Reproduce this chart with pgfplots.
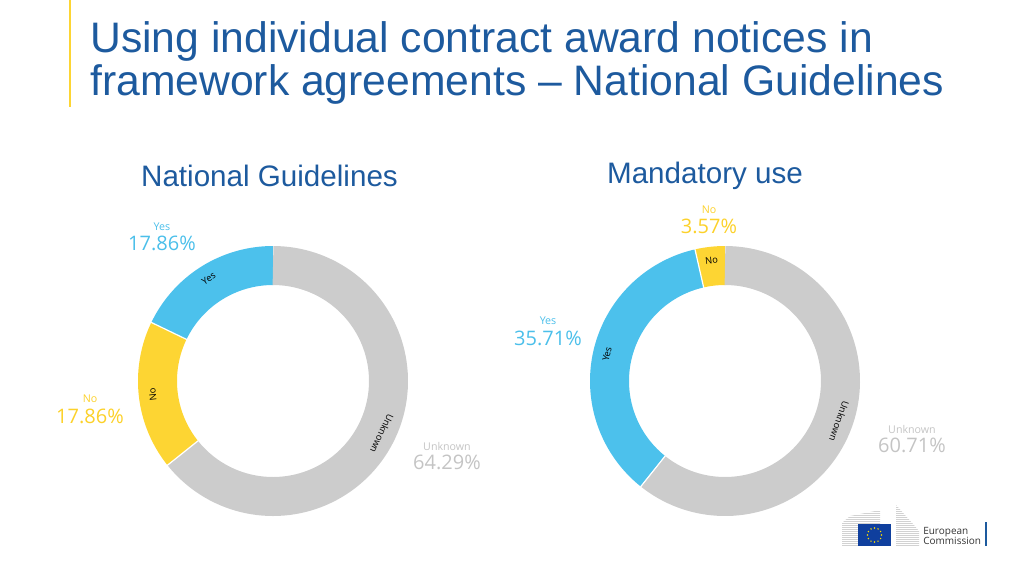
\documentclass[border=0pt]{standalone}
\usepackage{fontspec}
\setmainfont{Liberation Sans}
\newfontfamily\os{Open Sans}
\usepackage{pgfplots}
\pgfplotsset{compat=1.18}
\definecolor{cblue}{HTML}{4CC1EC}
\definecolor{cyel}{HTML}{FDD533}
\definecolor{cgray}{HTML}{CCCCCC}
\definecolor{ctitle}{HTML}{1D5A9E}
\definecolor{lgray}{HTML}{C4C4C4}
\definecolor{lblue}{HTML}{4BBFEA}
\definecolor{lyel}{HTML}{FCD12A}
\definecolor{eublue}{HTML}{0F3F9E}
\definecolor{eustar}{HTML}{FFDD00}
\newcommand{\inlfont}{\os\fontsize{7}{8}\selectfont}
% donut ring segment: cx, cy, start %, end %, colour
\newcommand{\seg}[5]{\addplot[draw=#5, line width=29.25pt, line cap=butt, domain=90+3.6*#3:90+3.6*#4, samples=100, variable=\t, forget plot] ({#1+115.5*cos(\t)},{#2-115.5*sin(\t)});}
% separator line at a cumulative %
\newcommand{\sep}[3]{\addplot[draw=white, line width=0.9pt, domain=95.5:135.5, samples=2, variable=\r, forget plot] ({#1+\r*cos(90+3.6*#3)},{#2-\r*sin(90+3.6*#3)});}
% label inside the ring
\newcommand{\inlab}[5]{%
  \pgfmathsetmacro\th{90+1.8*(#3+#4)}%
  \pgfmathsetmacro\lx{#1+121*cos(\th)}%
  \pgfmathsetmacro\ly{#2-121*sin(\th)}%
  \pgfmathsetmacro\rot{\th-90}%
  \edef\tmp{\noexpand\node[font=\noexpand\inlfont, text=black, rotate=\rot, inner sep=0pt] at (axis cs:\lx,\ly) {#5};}\tmp}
\begin{document}
\begin{tikzpicture}
\useasboundingbox (0,0) rectangle (768pt,432pt);
\begin{axis}[at={(0,0)},anchor=south west,width=768pt,height=432pt,scale only axis,
  xmin=0,xmax=1024,ymin=0,ymax=576,y dir=reverse,hide axis,clip=false]
% title
\draw[cyel, line width=2.2pt] (axis cs:70,0) -- (axis cs:70,107);
\node[anchor=base west, inner sep=0pt, text=ctitle, font=\fontsize{32}{38}\selectfont] at (axis cs:90,52) {Using individual contract award notices in};
\node[anchor=base west, inner sep=0pt, text=ctitle, font=\fontsize{32}{38}\selectfont] at (axis cs:90,95) {framework agreements -- National Guidelines};
% subtitles
\node[anchor=base, inner sep=0pt, text=ctitle, font=\fontsize{22.2}{26}\selectfont] at (axis cs:269.5,186.5) {National Guidelines};
\node[anchor=base, inner sep=0pt, text=ctitle, font=\fontsize{22.2}{26}\selectfont] at (axis cs:705,183) {Mandatory use};

% ---- left donut: National Guidelines (Yes 17.86, No 17.86, Unknown 64.29)
\seg{273}{381}{0}{17.86}{cblue}
\seg{273}{381}{17.86}{35.72}{cyel}
\seg{273}{381}{35.72}{100}{cgray}
\sep{273}{381}{17.86}
\sep{273}{381}{35.72}
\inlab{273}{381}{0}{17.86}{Yes}
\inlab{273}{381}{17.86}{35.72}{No}
\inlab{273}{381}{35.72}{100}{Unknown}

% ---- right donut: Mandatory use (No 3.57, Yes 35.71, Unknown 60.71)
\seg{725}{381}{0}{3.57}{cyel}
\seg{725}{381}{3.57}{39.28}{cblue}
\seg{725}{381}{39.28}{100}{cgray}
\sep{725}{381}{3.57}
\sep{725}{381}{39.28}
\inlab{725}{381}{0}{3.57}{No}
\inlab{725}{381}{3.57}{39.28}{Yes}
\inlab{725}{381}{39.28}{100}{Unknown}

% outer labels
\node[text=lblue, font=\os\fontsize{8}{9}\selectfont] at (axis cs:162,227) {Yes};
\node[text=lblue, font=\os\fontsize{15}{17}\selectfont] at (axis cs:162,243) {17.86\%};
\node[text=lyel, font=\os\fontsize{8}{9}\selectfont] at (axis cs:90,399) {No};
\node[text=lyel, font=\os\fontsize{15}{17}\selectfont] at (axis cs:90,416) {17.86\%};
\node[text=lgray, font=\os\fontsize{8}{9}\selectfont] at (axis cs:447,446) {Unknown};
\node[text=lgray, font=\os\fontsize{15}{17}\selectfont] at (axis cs:447,462) {64.29\%};

\node[text=lyel, font=\os\fontsize{8}{9}\selectfont] at (axis cs:709,210) {No};
\node[text=lyel, font=\os\fontsize{15}{17}\selectfont] at (axis cs:709,226) {3.57\%};
\node[text=lblue, font=\os\fontsize{8}{9}\selectfont] at (axis cs:548,321) {Yes};
\node[text=lblue, font=\os\fontsize{15}{17}\selectfont] at (axis cs:548,338) {35.71\%};
\node[text=lgray, font=\os\fontsize{8}{9}\selectfont] at (axis cs:912,429) {Unknown};
\node[text=lgray, font=\os\fontsize{15}{17}\selectfont] at (axis cs:912,445) {60.71\%};

% EU logo
\fill[gray!35] (axis cs:842,523) -- (axis cs:850,516) -- (axis cs:880,510) -- (axis cs:880,546) -- (axis cs:842,546) -- cycle;
\fill[gray!35] (axis cs:896,505) .. controls (axis cs:905,515) and (axis cs:914,525) .. (axis cs:919,531) -- (axis cs:919,546) -- (axis cs:896,546) -- cycle;
\pgfplotsinvokeforeach{506,508,...,546}{\draw[white, line width=0.5pt] (axis cs:840,#1) -- (axis cs:921,#1);}
\fill[eublue] (axis cs:858,524) rectangle (axis cs:891,546);
\pgfplotsinvokeforeach{0,30,...,330}{\fill[eustar] (axis cs:{874.5+7*cos(#1)},{535-7*sin(#1)}) circle[radius=0.6pt];}
\node[anchor=base west, inner sep=0pt, text=black!80, font=\os\fontsize{7.5}{9}\selectfont] at (axis cs:923,534) {European};
\node[anchor=base west, inner sep=0pt, text=black!80, font=\os\fontsize{7.5}{9}\selectfont] at (axis cs:923,544.5) {Commission};
\draw[ctitle, line width=1.6pt] (axis cs:986,522) -- (axis cs:986,546);
\end{axis}
\end{tikzpicture}
\end{document}
